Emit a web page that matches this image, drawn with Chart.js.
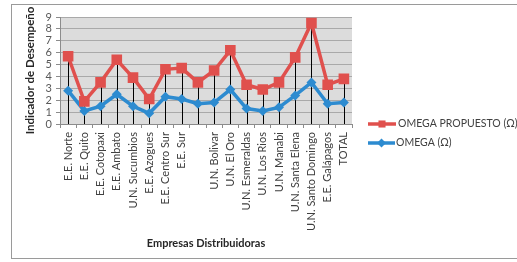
<!DOCTYPE html>
<html>
<head>
<meta charset="utf-8">
<script src="https://cdn.jsdelivr.net/npm/chart.js@4/dist/chart.umd.min.js"></script>
<style>
html,body{margin:0;padding:0;background:#fff;}
#wrap{position:relative;width:517px;height:262px;overflow:hidden;}
#frame{position:absolute;left:11px;top:4px;width:520px;height:255px;border:1px solid #9a9a9a;box-sizing:border-box;}
canvas{position:absolute;left:0;top:0;}
</style>
</head>
<body>
<div id="wrap">
<div id="frame"></div>
<canvas id="c" width="517" height="262"></canvas>
</div>
<script>
const categories = ["E.E. Norte","E.E. Quito","E.E. Cotopaxi","E.E. Ambato","U.N. Sucumbios","E.E. Azogues","E.E. Centro Sur","E.E. Sur","","U.N. Bolivar","U.N. El Oro","U.N. Esmeraldas","U.N. Los Rios","U.N. Manabi","U.N. Santa Elena","U.N. Santo Domingo","E.E. Galápagos","TOTAL"];
const omegaPropuesto = [5.7,1.9,3.5,5.4,3.9,2.1,4.6,4.7,3.5,4.5,6.2,3.3,2.9,3.5,5.6,8.5,3.3,3.8];
const omega = [2.8,1.1,1.5,2.5,1.5,0.9,2.3,2.1,1.7,1.8,2.9,1.3,1.1,1.4,2.4,3.5,1.7,1.8];
const seriesNames = ["OMEGA PROPUESTO (Ω)","OMEGA (Ω)"];
const yTicks = [0,1,2,3,4,5,6,7,8,9];

const RED = "#e0504d";
const BLUE = "#2d8bd0";
const FONT = "Lato";

const bgPlugin = {
  id:'bg',
  beforeDraw(chart){
    const {ctx, chartArea:a} = chart;
    ctx.save();
    ctx.fillStyle = "#dcdcdc";
    ctx.fillRect(a.left, a.top, a.right-a.left, a.bottom-a.top);
    ctx.restore();
  }
};

const dropLines = {
  id:'drop',
  beforeDatasetsDraw(chart){
    const {ctx, chartArea:a, scales} = chart;
    ctx.save();
    ctx.strokeStyle = "#000";
    ctx.lineWidth = 1;
    categories.forEach((c,i)=>{
      const x = Math.round(scales.x.getPixelForValue(i))+0.5;
      const top = scales.y.getPixelForValue(Math.max(omegaPropuesto[i], omega[i]));
      ctx.beginPath();
      ctx.moveTo(x, top);
      ctx.lineTo(x, a.bottom);
      ctx.stroke();
    });
    ctx.restore();
  }
};

const legendPlugin = {
  id:'customLegend',
  afterDraw(chart){
    const {ctx} = chart;
    const items = [
      {name: seriesNames[0], color: RED, style:'rect', y:124, x1:368, x2:396, tx:398},
      {name: seriesNames[1], color: BLUE, style:'rectRot', y:143, x1:368, x2:395, tx:396}
    ];
    ctx.save();
    items.forEach(it=>{
      ctx.strokeStyle = it.color;
      ctx.lineWidth = 3.5;
      ctx.beginPath();
      ctx.moveTo(it.x1, it.y);
      ctx.lineTo(it.x2, it.y);
      ctx.stroke();
      ctx.fillStyle = it.color;
      Chart.helpers.drawPoint(ctx, {pointStyle: it.style, radius: it.style==='rect'?5:4.5, borderWidth:0}, (it.x1+it.x2)/2, it.y);
      ctx.fillStyle = "#404040";
      ctx.font = "10.5px " + FONT;
      ctx.textBaseline = "middle";
      ctx.textAlign = "left";
      ctx.fillText(it.name, it.tx, it.y);
    });
    ctx.restore();
  }
};

new Chart(document.getElementById('c'), {
  type:'line',
  data:{
    labels: categories,
    datasets:[
      {label: seriesNames[0], data: omegaPropuesto, borderColor: RED, backgroundColor: RED,
       borderWidth: 3.5, pointStyle:'rect', pointRadius: 7.5, pointBorderWidth:0, tension:0},
      {label: seriesNames[1], data: omega, borderColor: BLUE, backgroundColor: BLUE,
       borderWidth: 3.5, pointStyle:'rectRot', pointRadius: 5, pointBorderWidth:0, tension:0}
    ]
  },
  options:{
    responsive:false,
    animation:false,
    events:[],
    layout:{padding:{left:0, top:17, right:165, bottom:0}},
    plugins:{legend:{display:false}, tooltip:{enabled:false}},
    scales:{
      x:{
        type:'category',
        offset:true,
        afterFit(s){ s.height = 262 - 17 - 107; },
        grid:{display:true, drawOnChartArea:false, drawTicks:true, tickLength:4, color:"#8c8c8c", offset:true},
        border:{display:true, color:"#8c8c8c"},
        ticks:{autoSkip:false, minRotation:90, maxRotation:90, padding:4, color:"#404040", font:{family:FONT, size:11}},
        title:{display:true, text:"Empresas Distribuidoras", color:"#262626", font:{family:FONT, size:11, weight:'bold'}, padding:{top:0,bottom:12}}
      },
      y:{
        min:0, max:9,
        afterFit(s){ s.width = 60; },
        afterBuildTicks(s){ s.ticks = yTicks.map(v=>({value:v})); },
        grid:{color:"#a9a9a9", drawTicks:true, tickLength:4, tickColor:"#8c8c8c"},
        border:{display:true, color:"#8c8c8c"},
        ticks:{autoSkip:false, padding:4, color:"#595959", font:{family:FONT, size:11}},
        title:{display:true, text:"Indicador de Desempeño", color:"#262626", font:{family:FONT, size:11.5, weight:'bold'}, padding:{top:23,bottom:0}}
      }
    }
  },
  plugins:[bgPlugin, dropLines, legendPlugin]
});
</script>
</body>
</html>
